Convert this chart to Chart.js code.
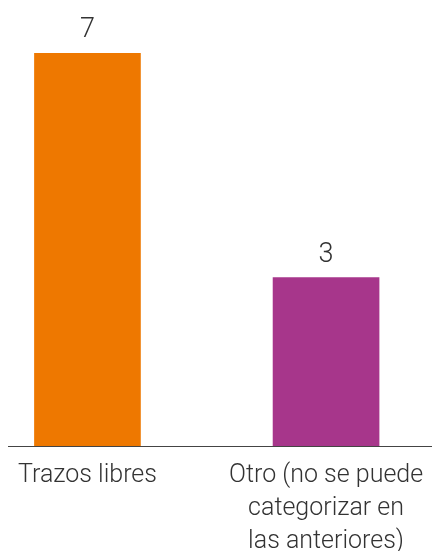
<!DOCTYPE html>
<html>
<head>
<meta charset="utf-8">
<script src="https://cdn.jsdelivr.net/npm/chart.js@4"></script>
<style>
  html, body { margin: 0; padding: 0; background: #fff; }
  #wrap { width: 432px; height: 551px; position: relative; }
</style>
</head>
<body>
<div id="wrap"><canvas id="chart"></canvas></div>
<script>
// categories (split into lines the way they are printed under the axis)
var categories = [
  ['Trazos libres'],
  ['Otro (no se puede', 'categorizar en', 'las anteriores)']
];
var positions = [0, 1];
var values = [7, 3];
var barColors = ['#EE7800', '#A7368B'];

var textColor = '#333333';
var fontFamily = 'Roboto, "DejaVu Sans", sans-serif';

// writes the value above each bar
var valueLabels = {
  id: 'valueLabels',
  afterDatasetsDraw: function(chart) {
    var ctx = chart.ctx;
    var meta = chart.getDatasetMeta(0);
    ctx.save();
    ctx.font = '300 27px ' + fontFamily;
    ctx.fillStyle = textColor;
    ctx.textAlign = 'center';
    ctx.textBaseline = 'alphabetic';
    meta.data.forEach(function(bar, i) {
      ctx.fillText(String(values[i]), bar.x, bar.y - 16);
    });
    ctx.restore();
  }
};

var points = [];
for (var i = 0; i < values.length; i++) {
  points.push({ x: positions[i], y: values[i] });
}

new Chart(document.getElementById('chart'), {
  type: 'bar',
  data: {
    datasets: [{
      data: points,
      backgroundColor: barColors,
      borderWidth: 0,
      barThickness: 106
    }]
  },
  options: {
    responsive: true,
    maintainAspectRatio: false,
    animation: false,
    layout: { padding: { top: 53, left: 8, right: 0, bottom: -20 } },
    plugins: {
      legend: { display: false },
      tooltip: { enabled: false }
    },
    scales: {
      x: {
        type: 'linear',
        offset: false,
        min: -0.333,
        max: 1.444,
        afterBuildTicks: function(scale) {
          scale.ticks = positions.map(function(p) { return { value: p }; });
        },
        // labels fit inside the canvas already, no extra side room needed
        afterFit: function(scale) {
          scale.paddingLeft = 0;
          scale.paddingRight = 0;
        },
        grid: { display: false, drawTicks: false },
        border: { display: true, color: '#444444', width: 1 },
        ticks: {
          autoSkip: false,
          maxRotation: 0,
          padding: 13,
          color: textColor,
          font: { family: fontFamily, size: 25, weight: '300', lineHeight: 1.32 },
          callback: function(v) {
            var idx = positions.indexOf(v);
            return idx >= 0 ? categories[idx] : '';
          }
        }
      },
      y: {
        display: false,
        min: 0,
        max: 7
      }
    }
  },
  plugins: [valueLabels]
});
</script>
</body>
</html>
